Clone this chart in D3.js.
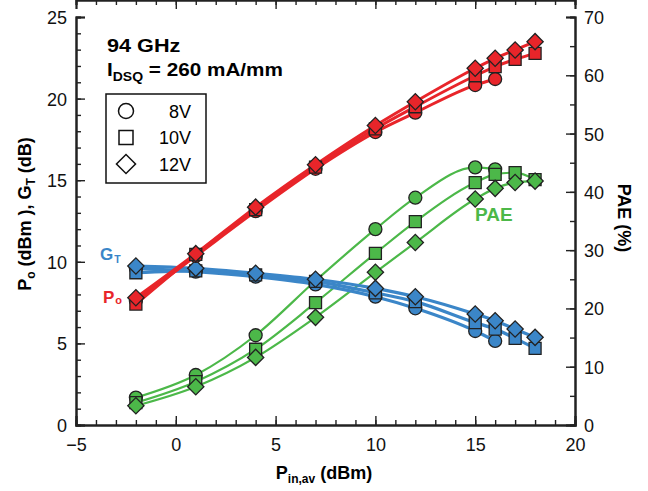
<!DOCTYPE html>
<html>
<head>
<meta charset="utf-8">
<script src="https://cdn.jsdelivr.net/npm/d3@7"></script>
<style>
  body { margin: 0; background: #fff; }
  svg { font-family: "Liberation Sans", Arial, sans-serif; }
</style>
</head>
<body>
<div id="chart"></div>
<script>
// input power (dBm)
const pin = [-2, 1, 4, 7, 10, 12, 15, 16, 17, 18];

// output power Po (dBm)
const po8 = [7.62, 10.36, 13.1, 15.7, 17.95, 19.14, 20.83, 21.2];
const po10 = [7.41, 10.45, 13.2, 15.8, 18.15, 19.5, 21.4, 21.96, 22.4, 22.77];
const po12 = [7.8, 10.5, 13.35, 15.95, 18.35, 19.81, 21.86, 22.47, 22.98, 23.49];

// transducer gain GT (dB)
const gt8 = [9.6, 9.4, 9.09, 8.62, 7.86, 7.15, 5.76, 5.15];
const gt10 = [9.33, 9.45, 9.2, 8.8, 8.1, 7.56, 6.27, 5.88, 5.31, 4.7];
const gt12 = [9.74, 9.6, 9.3, 8.93, 8.37, 7.86, 6.8, 6.39, 5.88, 5.37];

// PAE (%)
const pae8 = [4.7, 8.58, 15.4, 24.75, 33.6, 39.0, 44.2, 43.86];
const pae10 = [3.83, 7.43, 13.0, 20.98, 29.45, 34.9, 41.6, 43.0, 43.3, 42.1];
const pae12 = [3.3, 6.57, 11.6, 18.47, 26.2, 31.3, 38.77, 40.6, 41.6, 41.85];

const voltages = ["8V", "10V", "12V"];
const shapes = ["circle", "square", "diamond"];

const xTicks = [-5, 0, 5, 10, 15, 20];
const yLeftTicks = [0, 5, 10, 15, 20, 25];
const yRightTicks = [0, 10, 20, 30, 40, 50, 60, 70];

const RED = "#e8252a", BLUE = "#3b86c8", GREEN = "#4cb849";

var width = 648, height = 491;
var margin = { left: 76, right: 73, top: 17, bottom: 66 };

var svg = d3.select("#chart").append("svg")
  .attr("width", width).attr("height", height);

var x = d3.scaleLinear().domain([-5, 20]).range([margin.left, width - margin.right]);
var yL = d3.scaleLinear().domain([0, 25]).range([height - margin.bottom, margin.top]);
var yR = d3.scaleLinear().domain([0, 70]).range([height - margin.bottom, margin.top]);

// axes: ticks pointing inward
function addAxis(axisFn, scale, pos, majors, minors, labels) {
  var g = svg.append("g").attr("transform", pos);
  g.call(axisFn(scale).tickValues(minors).tickSize(-5).tickFormat(""));
  var m = svg.append("g").attr("transform", pos);
  m.call(axisFn(scale).tickValues(majors).tickSize(-9).tickPadding(13)
    .tickFormat(labels ? (d => d < 0 ? "\u2212" + Math.abs(d) : d) : ""));
  [g, m].forEach(a => {
    a.select(".domain").attr("stroke", "#222").attr("stroke-width", 2);
    a.selectAll(".tick line").attr("stroke", "#222").attr("stroke-width", 1.4);
    a.selectAll("text").style("font-size", "18px").attr("fill", "#111");
  });
  return m;
}

var bottom = yL(0), top = yL(25), left = x(-5), right = x(20);
var ba = addAxis(d3.axisBottom, x, `translate(0,${bottom})`, xTicks, d3.range(-5, 21, 1), true);
ba.selectAll("text").attr("dy", "0.71em");
addAxis(d3.axisTop, x, `translate(0,${top})`, xTicks, d3.range(-5, 21, 1), false);
var la = addAxis(d3.axisLeft, yL, `translate(${left},0)`, yLeftTicks, d3.range(0, 26, 1), true);
la.selectAll("text").attr("dx", 4).attr("dy", "0.36em");
var ra = addAxis(d3.axisRight, yR, `translate(${right},0)`, yRightTicks, d3.range(0, 71, 5), true);
ra.selectAll("text").attr("dx", -4).attr("dy", "0.36em");

// marker symbols
var sym = {
  circle: d3.symbol().type(d3.symbolCircle).size(Math.PI * 6.5 * 6.5),
  square: d3.symbol().type(d3.symbolSquare).size(12 * 12),
  diamond: d3.symbol().type(d3.symbolSquare).size(11.5 * 11.5)
};
function symTransform(s, px, py) {
  return s === "diamond" ? `translate(${px},${py}) rotate(45)` : `translate(${px},${py})`;
}

function drawGroup(seriesList, yScale, color, lw) {
  var line = d3.line()
    .x((d, i) => x(pin[i]))
    .y(d => yScale(d))
    .curve(d3.curveMonotoneX);
  var g = svg.append("g");
  seriesList.forEach(s => {
    g.append("path").datum(s).attr("d", line)
      .attr("fill", "none").attr("stroke", color).attr("stroke-width", lw);
  });
  seriesList.forEach((s, k) => {
    g.selectAll(null).data(s).enter().append("path")
      .attr("d", sym[shapes[k]]())
      .attr("transform", (d, i) => symTransform(shapes[k], x(pin[i]), yScale(d)))
      .attr("fill", color).attr("stroke", "#222").attr("stroke-width", 1.3);
  });
}

drawGroup([pae8, pae10, pae12], yR, GREEN, 2.2);
drawGroup([gt8, gt10, gt12], yL, BLUE, 3.2);
drawGroup([po8, po10, po12], yL, RED, 3);

// annotations (the source font is a bit wider than Liberation, so stretch x)
svg.append("text").attr("transform", "translate(107,52) scale(1.17,1)")
  .style("font-size", "18.5px").style("font-weight", "bold").text("94 GHz");
var ids = svg.append("text").attr("transform", "translate(107,76) scale(1.12,1)")
  .style("font-size", "18.5px").style("font-weight", "bold");
ids.append("tspan").text("I");
ids.append("tspan").attr("dy", 5).style("font-size", "12.5px").text("DSQ");
ids.append("tspan").attr("dy", -5).text(" = 260 mA/mm");

// legend
svg.append("rect").attr("x", 106).attr("y", 94).attr("width", 100).attr("height", 89)
  .attr("fill", "none").attr("stroke", "#111").attr("stroke-width", 1.5);
var leg = {
  circle: d3.symbol().type(d3.symbolCircle).size(Math.PI * 7.5 * 7.5),
  square: d3.symbol().type(d3.symbolSquare).size(14 * 14),
  diamond: d3.symbol().type(d3.symbolSquare).size(13.5 * 13.5)
};
voltages.forEach((v, k) => {
  var yy = 111 + k * 26.5;
  var s = shapes[k];
  svg.append("path").attr("d", leg[s]())
    .attr("transform", symTransform(s, 126, yy))
    .attr("fill", "#fff").attr("stroke", "#111").attr("stroke-width", 1.5);
  svg.append("text").attr("x", 191).attr("y", yy + 6.5)
    .attr("text-anchor", "end").style("font-size", "18px").text(v);
});

// series labels
var gtl = svg.append("text").attr("x", 100).attr("y", 260)
  .attr("fill", BLUE).style("font-size", "17px").style("font-weight", "bold");
gtl.append("tspan").text("G");
gtl.append("tspan").attr("dx", 1).attr("dy", 3).style("font-size", "10.5px").text("T");
var pol = svg.append("text").attr("x", 103).attr("y", 303)
  .attr("fill", RED).style("font-size", "17px").style("font-weight", "bold");
pol.append("tspan").text("P");
pol.append("tspan").attr("dx", 1).attr("dy", 1).style("font-size", "11px").text("o");
svg.append("text").attr("x", 475).attr("y", 221)
  .attr("fill", GREEN).style("font-size", "19px").style("font-weight", "bold").text("PAE");

// axis titles
var xl = svg.append("text").attr("x", 324).attr("y", 479)
  .attr("text-anchor", "middle").style("font-size", "18px").style("font-weight", "bold");
xl.append("tspan").text("P");
xl.append("tspan").attr("dy", 4).style("font-size", "12px").text("in,av");
xl.append("tspan").attr("dy", -4).text(" (dBm)");

var yl = svg.append("text").attr("transform", "translate(31,214) rotate(-90)")
  .attr("text-anchor", "middle").style("font-size", "18px").style("font-weight", "bold");
yl.append("tspan").text("P");
yl.append("tspan").attr("dy", 4).style("font-size", "12px").text("o");
yl.append("tspan").attr("dy", -4).text(" (dBm ), G");
yl.append("tspan").attr("dy", 4).style("font-size", "12px").text("T");
yl.append("tspan").attr("dy", -4).text(" (dB)");

svg.append("text").attr("transform", "translate(618,218) rotate(90)")
  .attr("text-anchor", "middle").style("font-size", "18px").style("font-weight", "bold")
  .text("PAE (%)");
</script>
</body>
</html>
